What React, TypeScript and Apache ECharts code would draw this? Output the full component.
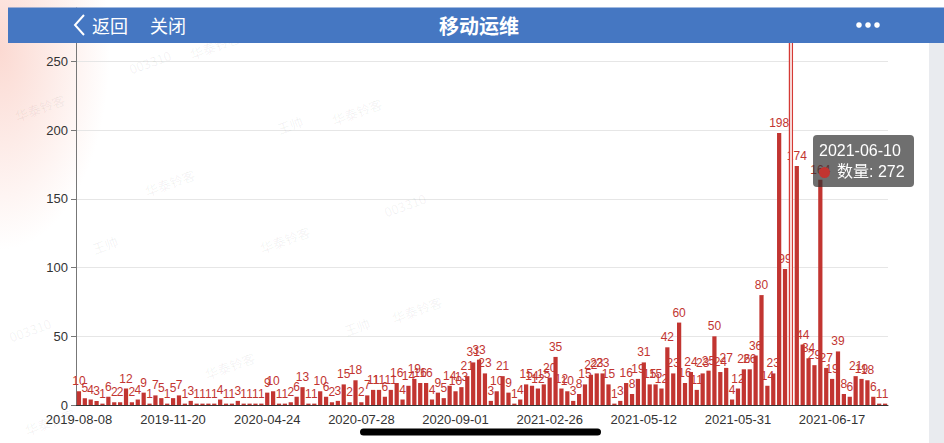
import React, { useEffect, useRef } from 'react';
import * as echarts from 'echarts';

const categories = [
  '2019-08-08','2019-08-12','2019-08-15','2019-08-20','2019-08-26','2019-08-29','2019-09-03','2019-09-09','2019-09-12','2019-09-18','2019-09-24','2019-09-27','2019-10-10','2019-10-16','2019-10-23','2019-11-05',
  '2019-11-20','2019-11-26','2019-12-03','2019-12-10','2019-12-18','2019-12-25','2020-01-06','2020-01-14','2020-01-21','2020-02-11','2020-02-25','2020-03-05','2020-03-16','2020-03-24','2020-04-01','2020-04-15',
  '2020-04-24','2020-04-29','2020-05-08','2020-05-14','2020-05-20','2020-05-27','2020-06-02','2020-06-09','2020-06-15','2020-06-22','2020-06-29','2020-07-03','2020-07-08','2020-07-14','2020-07-17','2020-07-22',
  '2020-07-28','2020-07-30','2020-07-31','2020-08-03','2020-08-05','2020-08-07','2020-08-10','2020-08-12','2020-08-14','2020-08-17','2020-08-19','2020-08-21','2020-08-24','2020-08-26','2020-08-27','2020-08-31',
  '2020-09-01','2020-09-10','2020-09-21','2020-10-09','2020-10-20','2020-11-02','2020-11-12','2020-11-20','2020-11-30','2020-12-08','2020-12-16','2020-12-24','2021-01-06','2021-01-15','2021-01-26','2021-02-05',
  '2021-02-26','2021-03-03','2021-03-09','2021-03-15','2021-03-19','2021-03-24','2021-03-30','2021-04-06','2021-04-12','2021-04-16','2021-04-21','2021-04-25','2021-04-28','2021-05-06','2021-05-08','2021-05-10',
  '2021-05-12','2021-05-13','2021-05-14','2021-05-15','2021-05-17','2021-05-18','2021-05-19','2021-05-20','2021-05-21','2021-05-22','2021-05-24','2021-05-25','2021-05-26','2021-05-27','2021-05-28','2021-05-30',
  '2021-05-31','2021-06-01','2021-06-02','2021-06-03','2021-06-04','2021-06-05','2021-06-07','2021-06-08','2021-06-09','2021-06-10','2021-06-11','2021-06-12','2021-06-13','2021-06-14','2021-06-15','2021-06-16',
  '2021-06-17','2021-06-18','2021-06-19','2021-06-20','2021-06-21','2021-06-22','2021-06-23','2021-06-24','2021-06-25','2021-06-26'
];

const counts = [
  10,5,4,3,1,6,2,2,12,2,4,9,1,7,5,1,
  5,7,1,3,1,1,1,1,4,1,1,3,1,1,1,1,
  9,10,1,1,2,6,13,1,1,10,6,2,3,15,2,18,
  2,7,11,11,6,11,16,4,14,19,16,16,4,9,5,14,
  10,13,21,31,33,23,3,10,21,9,1,4,15,14,12,15,
  20,35,12,10,3,8,15,22,23,23,15,1,3,16,8,19,
  31,15,15,12,42,23,60,16,24,11,23,25,50,24,27,4,
  12,26,26,36,80,14,23,198,99,272,174,44,34,29,164,27,
  19,39,8,6,21,19,18,6,1,1
];

const seriesName = '数量';
const tooltipIndex = 121;
const pageTitle = '移动运维';
const backText = '返回';
const closeText = '关闭';

const watermarks: [string, number, number][] = [
  ['003310', 150, 62], ['华泰铃客', 215, 46], ['华泰铃客', 40, 108], ['王帅', 290, 125],
  ['华泰铃客', 357, 112], ['华泰铃客', 170, 183], ['003310', 405, 205], ['王帅', 105, 245],
  ['华泰铃客', 285, 240], ['003310', 30, 330], ['王帅', 357, 327], ['华泰铃客', 417, 310],
  ['华泰铃客', 230, 366], ['华泰铃客', 50, 422]
];

export default function App() {
  const ref = useRef<HTMLDivElement>(null);
  useEffect(() => {
    const chart = echarts.init(ref.current!, null, { renderer: 'svg' });
    const font = 'Helvetica, Arial, "Liberation Sans", "Noto Sans CJK SC", sans-serif';
    const cjk = '"Noto Sans CJK SC", "Noto Sans", sans-serif';
    const red = '#c23531';
    const wm = watermarks.map(([t, x, y]) => ({
      type: 'text', x, y, rotation: 0.35, z: 50, silent: true,
      style: { text: t, fill: 'rgba(0,0,0,0.06)', fontSize: 13, fontFamily: cjk, align: 'center', verticalAlign: 'middle' }
    }));
    chart.setOption({
      animation: false,
      textStyle: { fontFamily: font },
      grid: { left: 76, right: 56, top: 8, bottom: 38 },
      xAxis: {
        type: 'category',
        data: categories,
        axisLine: { lineStyle: { color: '#333' } },
        axisTick: { alignWithLabel: true, interval: 15, length: 5, lineStyle: { color: '#333' } },
        axisLabel: { interval: 15, color: '#333', fontSize: 13, margin: 8, fontFamily: font }
      },
      yAxis: {
        type: 'value', min: 0, max: 289, interval: 50,
        axisLine: { show: true, lineStyle: { color: '#777' } },
        axisTick: { show: true, length: 5, lineStyle: { color: '#777' } },
        axisLabel: { color: '#333', fontSize: 13, margin: 8, showMaxLabel: false, fontFamily: font },
        splitLine: { lineStyle: { color: '#e6e6e6' } }
      },
      tooltip: {
        trigger: 'axis',
        triggerOn: 'none',
        alwaysShowContent: true,
        transitionDuration: 0,
        position: [813, 135],
        backgroundColor: 'rgba(50,50,50,0.7)',
        borderWidth: 0,
        padding: [5, 9, 5, 6],
        extraCssText: 'box-shadow:none;border-radius:4px;',
        textStyle: { color: '#fff', fontSize: 16, fontFamily: font },
        axisPointer: { type: 'line', lineStyle: { color: 'rgba(255,255,255,0.8)', width: 2, type: 'solid' } },
        formatter: (params: any) => {
          const p = Array.isArray(params) ? params[0] : params;
          return `<div style="line-height:21px;font-size:16px;color:#fff">${p.name}</div>` +
            `<div style="line-height:21px;font-size:16px;color:#fff"><span style="display:inline-block;width:11px;height:11px;border-radius:50%;background:${red};margin-right:7px;vertical-align:-1px"></span>${p.seriesName}: ${p.value}</div>`;
        }
      },
      series: [{
        type: 'bar',
        name: seriesName,
        data: counts,
        barWidth: '72%',
        itemStyle: { color: red },
        label: { show: true, position: 'top', color: red, fontSize: 12, distance: 4, fontFamily: font }
      }],
      graphic: [
        ...wm,
        { type: 'rect', z: 100, shape: { x: 929, y: 43, width: 15, height: 400 }, style: { fill: '#e9ebef' } },
        { type: 'rect', z: 100, shape: { x: 8, y: 7.5, width: 936, height: 35.5 }, style: { fill: '#4577c2' } },
        { type: 'polyline', z: 101, shape: { points: [[84, 15], [75, 25], [84, 35]] }, style: { stroke: '#fff', lineWidth: 2, fill: 'none' } },
        { type: 'text', z: 101, x: 92, y: 25, style: { text: backText, fill: '#fff', fontSize: 18, fontFamily: cjk, verticalAlign: 'middle' } },
        { type: 'text', z: 101, x: 150, y: 25, style: { text: closeText, fill: '#fff', fontSize: 18, fontFamily: cjk, verticalAlign: 'middle' } },
        { type: 'text', z: 101, x: 479, y: 25, style: { text: pageTitle, fill: '#fff', fontSize: 20, fontWeight: 'bold', fontFamily: cjk, align: 'center', verticalAlign: 'middle' } },
        { type: 'circle', z: 101, shape: { cx: 859, cy: 25, r: 2.8 }, style: { fill: '#fff' } },
        { type: 'circle', z: 101, shape: { cx: 868, cy: 25, r: 2.8 }, style: { fill: '#fff' } },
        { type: 'circle', z: 101, shape: { cx: 877, cy: 25, r: 2.8 }, style: { fill: '#fff' } },
        { type: 'rect', z: 101, shape: { x: 360, y: 428.5, width: 241, height: 7, r: 3.5 }, style: { fill: '#000' } }
      ]
    });
    chart.dispatchAction({ type: 'showTip', seriesIndex: 0, dataIndex: tooltipIndex });
    return () => chart.dispose();
  }, []);
  return (
    <div style={{
      position: 'fixed', left: 0, top: 0, width: 944, height: 443,
      background: 'radial-gradient(ellipse 110px 200px at 0px 50px, rgba(250,205,195,0.75) 0%, rgba(255,255,255,0) 100%), #ffffff'
    }}>
      <div ref={ref} style={{ width: 944, height: 443 }} />
    </div>
  );
}
